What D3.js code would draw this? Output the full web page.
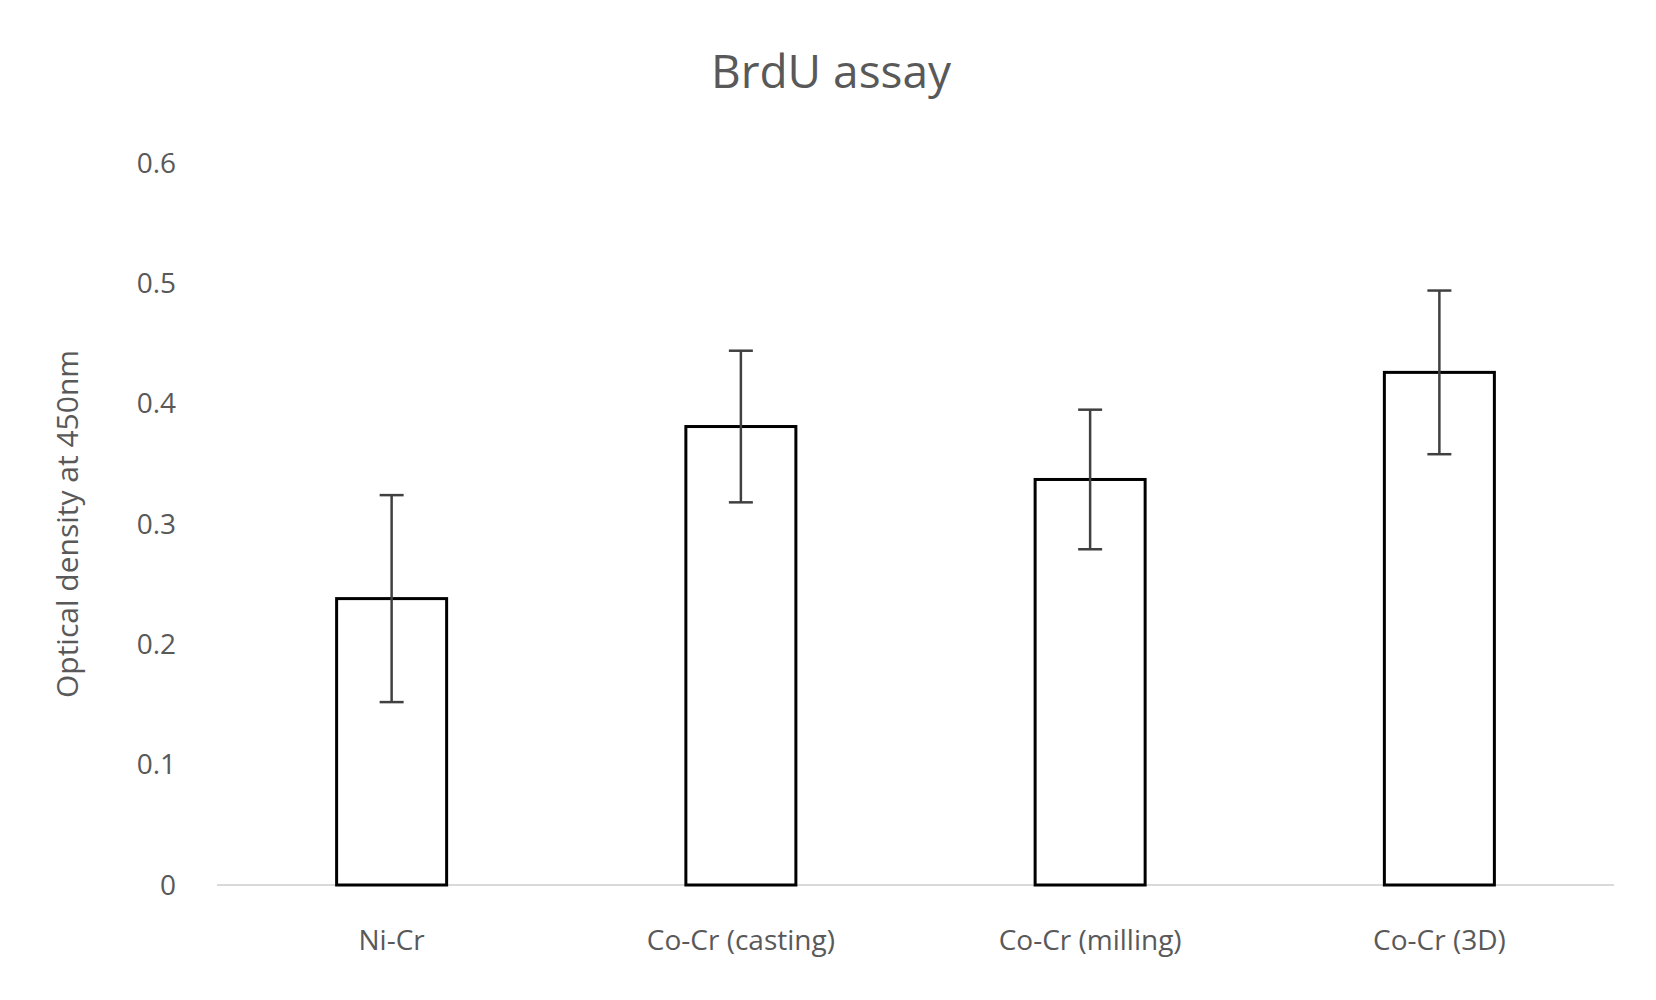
<!DOCTYPE html>
<html><head><meta charset="utf-8">
<script src="https://cdn.jsdelivr.net/npm/d3@7"></script>
<style>body{margin:0;background:#fff}text{font-family:"Open Sans","Liberation Sans",sans-serif;fill:#595959}</style>
</head><body><svg id="c" width="1656" height="1000"></svg>
<script>
const categories=["Ni-Cr","Co-Cr (casting)","Co-Cr (milling)","Co-Cr (3D)"];
const values=[0.238,0.381,0.337,0.426];
const errors=[0.086,0.063,0.058,0.068];
const yTicks=[0,0.1,0.2,0.3,0.4,0.5,0.6];
const svg=d3.select("#c");
const x=d3.scaleBand().domain(categories).range([217,1614]).paddingInner(0.685).paddingOuter(0.3425);
const y=d3.scaleLinear().domain([0,0.6]).range([885,163]);
svg.append("line").attr("x1",217).attr("x2",1614).attr("y1",y(0)).attr("y2",y(0)).attr("stroke","#d9d9d9").attr("stroke-width",2);
svg.selectAll(".yt").data(yTicks).join("text").attr("x",176).attr("y",d=>y(d)).attr("dy","0.35em").attr("text-anchor","end").attr("font-size",28).text(d=>d);
svg.selectAll(".xt").data(categories).join("text").attr("x",d=>x(d)+x.bandwidth()/2).attr("y",940).attr("dy","0.35em").attr("text-anchor","middle").attr("font-size",28).text(d=>d);
svg.selectAll(".bar").data(categories).join("rect").attr("x",d=>x(d)).attr("width",x.bandwidth()).attr("y",(d,i)=>y(values[i])).attr("height",(d,i)=>y(0)-y(values[i])).attr("fill","#fff").attr("stroke","#000").attr("stroke-width",3);
const g=svg.selectAll(".err").data(categories).join("g").attr("stroke","#404040").attr("stroke-width",2.5);
g.append("line").attr("x1",d=>x(d)+x.bandwidth()/2).attr("x2",d=>x(d)+x.bandwidth()/2).attr("y1",(d,i)=>y(values[i]+errors[i])).attr("y2",(d,i)=>y(values[i]-errors[i]));
[1,-1].forEach(s=>g.append("line").attr("x1",d=>x(d)+x.bandwidth()/2-12).attr("x2",d=>x(d)+x.bandwidth()/2+12).attr("y1",(d,i)=>y(values[i]+s*errors[i])).attr("y2",(d,i)=>y(values[i]+s*errors[i])));
svg.append("text").attr("x",831).attr("y",72).attr("dy","0.35em").attr("text-anchor","middle").attr("font-size",46).text("BrdU assay");
svg.append("text").attr("transform","translate(67,524) rotate(-90)").attr("dy","0.35em").attr("text-anchor","middle").attr("font-size",30).text("Optical density at 450nm");
</script></body></html>
